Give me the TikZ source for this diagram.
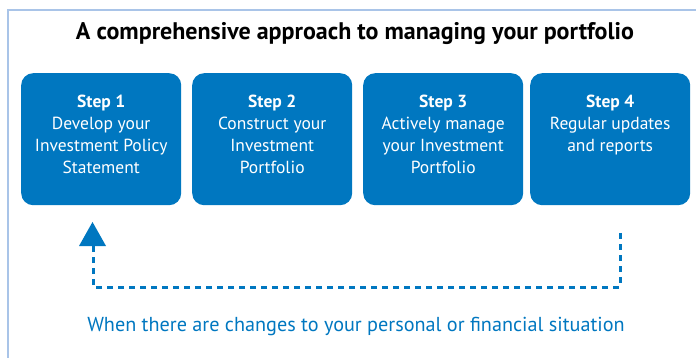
\documentclass[tikz,border=0pt]{standalone}
\usepackage{fontspec}
\setmainfont{PT Sans}
\usetikzlibrary{arrows.meta}
\definecolor{boxblue}{HTML}{0077C0}
\definecolor{framelb}{HTML}{A9C4E8}
\begin{document}
\begin{tikzpicture}[x=1pt,y=-1pt,
  stepbox/.style={fill=boxblue, rounded corners=12pt, minimum width=160pt, minimum height=132pt, anchor=north west, inner sep=0pt},
  steptext/.style={text=white, align=center, font=\fontsize{17.5}{22}\selectfont, anchor=north},
  loopline/.style={draw=boxblue, line width=3pt, dash pattern=on 6pt off 5pt}]
\useasboundingbox (0,0) rectangle (696,358);
\draw[framelb, line width=2pt] (8,358) -- (8,10) -- (696,10);
\node[font=\bfseries\fontsize{24}{26}\selectfont] (title) at (355,34) {A comprehensive approach to managing your portfolio};
\node[stepbox] (b1) at (21,73) {};
\node[stepbox] (b2) at (192,73) {};
\node[stepbox] (b3) at (363,73) {};
\node[stepbox] (b4) at (530,73) {};
\node[steptext] (t1) at ([yshift=-18pt]b1.north) {\textbf{Step 1}\\Develop your\\Investment Policy\\Statement};
\node[steptext] (t2) at ([yshift=-18pt]b2.north) {\textbf{Step 2}\\Construct your\\Investment\\Portfolio};
\node[steptext] (t3) at ([yshift=-18pt]b3.north) {\textbf{Step 3}\\Actively manage\\your Investment\\Portfolio};
\node[steptext] (t4) at ([yshift=-18pt]b4.north) {\textbf{Step 4}\\Regular updates\\and reports};
\coordinate (s) at (620,233);
\coordinate (c1) at (620,287);
\coordinate (c2) at (93,287);
\coordinate (e) at (93,246);
\draw[loopline] (s) -- (c1) -- (c2) -- (e);
\fill[boxblue] (79,246) -- (106,246) -- (92.5,222) -- cycle;
\node[text=boxblue, font=\fontsize{20.2}{22}\selectfont] (note) at (356,326) {When there are changes to your personal or financial situation};
\end{tikzpicture}
\end{document}
